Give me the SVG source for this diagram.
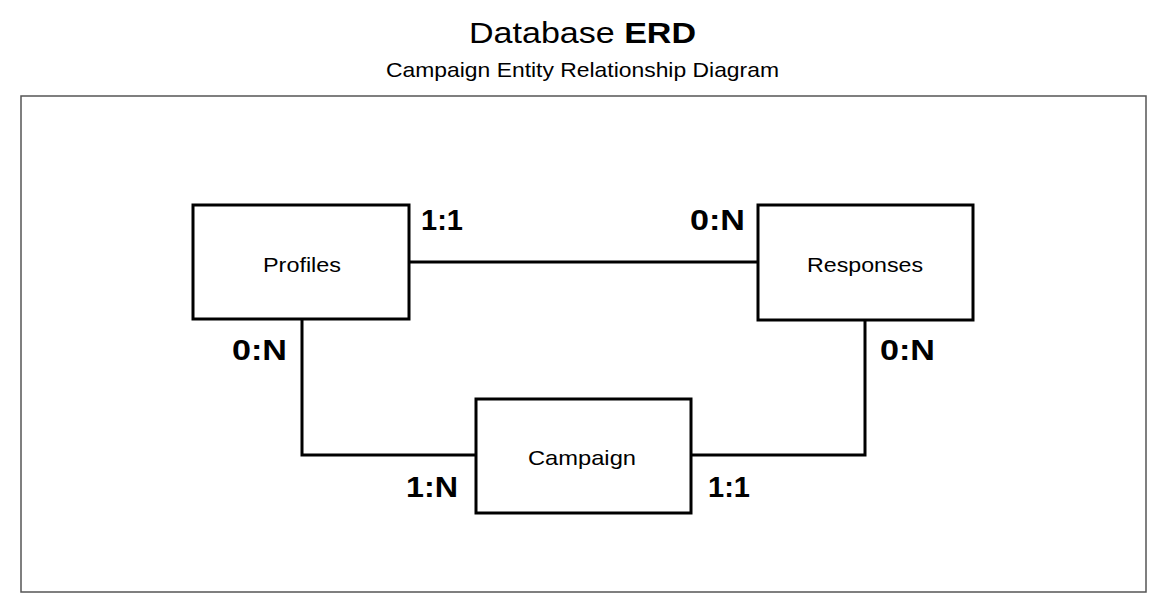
<svg xmlns="http://www.w3.org/2000/svg" width="1168" height="612" viewBox="0 0 1168 612">
<style>
.t{font-family:"Liberation Sans",Arial,sans-serif;fill:#000}
.box{fill:#fff;stroke:#000;stroke-width:3}
.conn{fill:none;stroke:#000;stroke-width:3}
.lbl{font-family:"Liberation Sans",Arial,sans-serif;font-size:21px}
.card{font-family:"Liberation Sans",Arial,sans-serif;font-size:29px;font-weight:bold}
</style>
<rect width="1168" height="612" fill="#fff"/>
<text class="t" x="469" y="43" font-size="30" textLength="227" lengthAdjust="spacingAndGlyphs">Database <tspan font-weight="bold">ERD</tspan></text>
<text class="t" x="386" y="77" font-size="21" textLength="393" lengthAdjust="spacingAndGlyphs">Campaign Entity Relationship Diagram</text>
<rect x="21" y="96" width="1125" height="496" fill="none" stroke="#555" stroke-width="1.5"/>
<g id="connectors">
<path class="conn" d="M409,262 H758"/>
<path class="conn" d="M302,319 V455 H476"/>
<path class="conn" d="M691,455 H865 V320"/>
</g>
<g id="profiles"><rect class="box" x="193" y="205" width="216" height="114"/><text class="lbl" x="263" y="272" textLength="78" lengthAdjust="spacingAndGlyphs">Profiles</text></g>
<g id="responses"><rect class="box" x="758" y="205" width="215" height="115"/><text class="lbl" x="807" y="272" textLength="116" lengthAdjust="spacingAndGlyphs">Responses</text></g>
<g id="campaign"><rect class="box" x="476" y="399" width="215" height="114"/><text class="lbl" x="528" y="465" textLength="108" lengthAdjust="spacingAndGlyphs">Campaign</text></g>
<g id="cardinalities">
<text class="card" x="421" y="230">1:1</text>
<text class="card" x="690" y="230" textLength="55" lengthAdjust="spacingAndGlyphs">0:N</text>
<text class="card" x="232" y="360" textLength="55" lengthAdjust="spacingAndGlyphs">0:N</text>
<text class="card" x="880" y="360" textLength="55" lengthAdjust="spacingAndGlyphs">0:N</text>
<text class="card" x="406" y="497" textLength="52" lengthAdjust="spacingAndGlyphs">1:N</text>
<text class="card" x="708" y="497">1:1</text>
</g>
</svg>
